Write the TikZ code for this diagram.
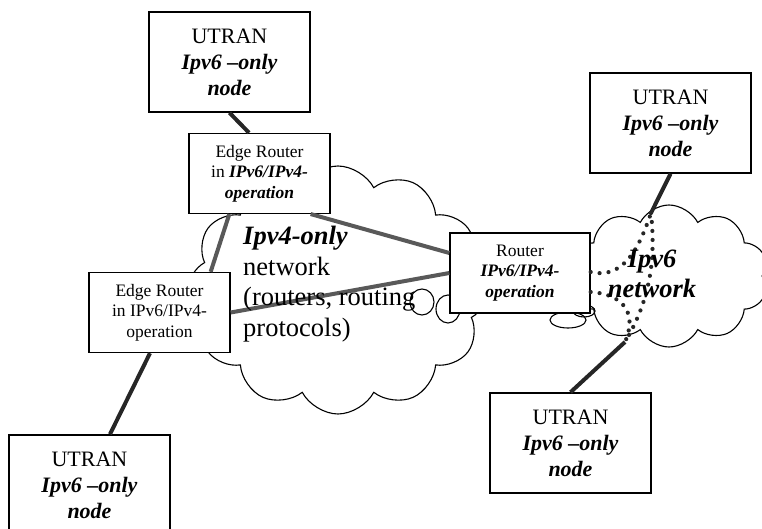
\documentclass[tikz,border=0pt]{standalone}
\usepackage{fontspec}
\setmainfont{Liberation Serif}
\usepackage{tikz}
\usetikzlibrary{positioning,calc}
\usetikzlibrary{shapes.symbols}

\newcommand{\bfit}[1]{\textbf{\textit{#1}}}

\tikzset{
   utran/.style={draw, line width=1.5pt, fill=white, minimum width=161pt,
      minimum height=100pt, align=center, inner sep=0pt,
      font=\fontsize{22pt}{26pt}\selectfont},
   rtr/.style={draw, line width=1.3pt, fill=white, minimum width=141pt,
      minimum height=80pt, align=center, inner sep=0pt,
      font=\fontsize{17.5pt}{20.5pt}\selectfont},
   puff/.style={draw, line width=1.1pt, cloud, cloud ignores aspect},
   v6link/.style={line width=4pt, black!85},
   v4link/.style={line width=4pt, black!65},
   v6dots/.style={line width=4.2pt, line cap=round, dash pattern=on 0pt off 9pt,
      black!85},
}

\begin{document}
\begin{tikzpicture}[x=1pt,y=-1pt]
   \useasboundingbox (0,0) rectangle (762,529);

   % clouds
   \node[puff, cloud puffs=12, cloud puff arc=125, minimum width=300pt,
      minimum height=248pt] (v4net) at (338,290) {};
   \node[puff, cloud puffs=10, cloud puff arc=125, minimum width=198pt,
      minimum height=142pt] (v6net) at (669,276) {};
   \draw[line width=1.1pt] (422,302) ellipse (12 and 13);
   \draw[line width=1.1pt] (448,309) ellipse (12 and 14);
   \draw[line width=1.1pt] (568,320) ellipse (18 and 8);
   \draw[line width=1.1pt] (584,311) ellipse (11 and 6);

   % UTRAN nodes
   \node[utran] (u1) at (229.5,62) {UTRAN\\\bfit{Ipv6 –only}\\\bfit{node}};
   \node[utran] (u3) at (670.5,123) {UTRAN\\\bfit{Ipv6 –only}\\\bfit{node}};
   \node[utran] (u4) at (570.5,443) {UTRAN\\\bfit{Ipv6 –only}\\\bfit{node}};

   % routers
   \node[rtr, below=20pt of u1, xshift=30pt] (e1)
      {Edge Router\\in \bfit{IPv6/IPv4-}\\\bfit{operation}};
   \node[rtr] (e2) at (159.5,312.5) {Edge Router\\in IPv6/IPv4-\\operation};
   \node[utran, below=81pt of e2, xshift=-70pt] (u2)
      {UTRAN\\\bfit{Ipv6 –only}\\\bfit{node}};
   \node[rtr, minimum width=140pt] (r0) at (520,273)
      {Router\\\bfit{IPv6/IPv4-}\\\bfit{operation}};

   % ends of the access links in the Ipv6 cloud
   \coordinate (c1) at (651,213);
   \coordinate (c2) at (625,342);

   \draw[v6link] (u1.south) -- ([xshift=-10.5pt]e1.north);
   \draw[v6link] ([xshift=20.5pt]u2.north) -- ([xshift=-9.5pt]e2.south);
   \draw[v6link] (u3.south) -- (c1);
   \draw[v6link] (u4.north) -- (c2);

   \draw[v4link] ([xshift=-20pt]e1.south east) -- ([yshift=20pt]r0.west);
   \draw[v4link] (e2.east) -- (r0.west);
   \draw[v4link] ([xshift=-20pt]e2.north east) -- ([xshift=41pt]e1.south west);

   \draw[v6dots] ([yshift=1pt]r0.east) .. controls (625,280) and (640,245) .. (c1);
   \draw[v6dots] (c1) .. controls (656,260) and (650,300) .. (c2);
   \draw[v6dots] ([yshift=-19pt]r0.east) .. controls (622,294) and (638,312) .. (c2);

   % network labels
   \node[anchor=north west, align=left, inner sep=0pt,
      font=\fontsize{26.5pt}{30.5pt}\selectfont] (v4txt) at (243,226)
      {\bfit{Ipv4-only}\\network\\(routers, routing\\protocols)};
   \node[anchor=north, align=center, inner sep=0pt,
      font=\bfseries\itshape\fontsize{26.5pt}{30pt}\selectfont] (v6txt) at (652,250)
      {Ipv6\\network};
\end{tikzpicture}
\end{document}
